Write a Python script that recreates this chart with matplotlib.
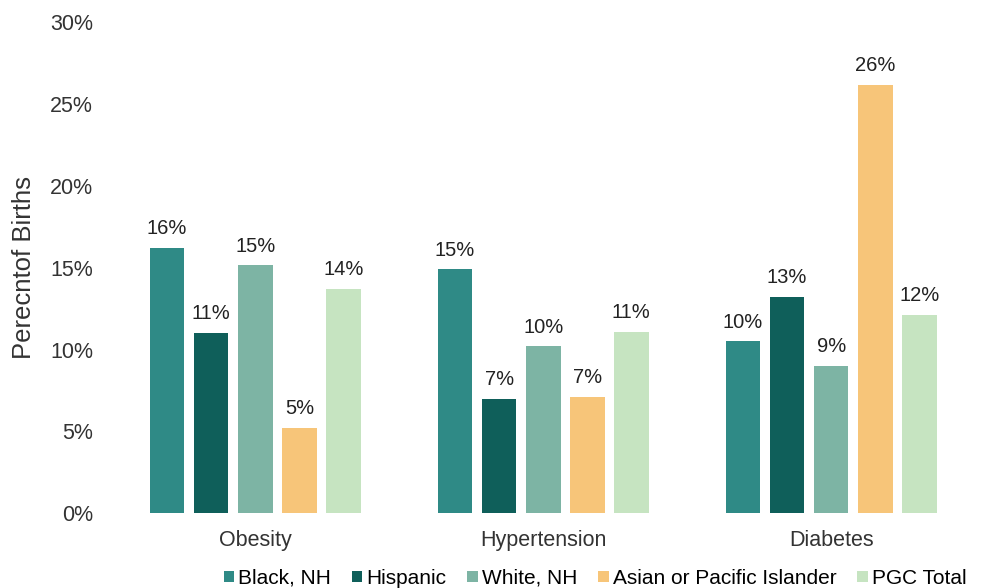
import numpy as np
import matplotlib.pyplot as plt

plt.rcParams['font.family'] = ['Liberation Sans', 'DejaVu Sans']

# Datos
condiciones = ["Obesity", "Hypertension", "Diabetes"]
grupos = ["Black, NH", "Hispanic", "White, NH", "Asian or Pacific Islander", "PGC Total"]
black_nh = [16.2, 14.9, 10.5]
hispanic = [11.0, 7.0, 13.2]
white_nh = [15.15, 10.2, 9.0]
asian_pi = [5.2, 7.1, 26.2]
pgc_total = [13.7, 11.1, 12.1]
colores = ["#2f8a86", "#0f5f5a", "#7db4a4", "#f7c579", "#c6e4c1"]

series = [black_nh, hispanic, white_nh, asian_pi, pgc_total]

fig, ax = plt.subplots(figsize=(9.85, 5.88), dpi=100)
fig.subplots_adjust(left=0.113, right=0.99, top=0.962, bottom=0.127)

x = np.arange(len(condiciones))
paso = 0.153
ancho = 0.12
for i, (vals, nombre, c) in enumerate(zip(series, grupos, colores)):
    pos = x + (i - 2) * paso
    barras = ax.bar(pos, vals, width=ancho, color=c, label=nombre)
    for b, v in zip(barras, vals):
        ax.text(b.get_x() + b.get_width() / 2, v + 0.6, f"{round(v):.0f}%",
                ha='center', va='bottom', fontsize=14.5, color="#222222")

ax.set_xlim(-0.5, 2.5)
ax.set_ylim(0, 30)
ax.set_yticks(np.arange(0, 31, 5))
ax.set_yticklabels([f"{t}%" for t in range(0, 31, 5)])
ax.set_xticks(x)
ax.set_xticklabels(condiciones)
ax.tick_params(axis='both', length=0, labelsize=15.5, colors="#333333")
ax.tick_params(axis='y', pad=13)
ax.tick_params(axis='x', pad=12)
ax.set_ylabel("Perecntof Births", fontsize=18.5, color="#333333", labelpad=10)
for s in ax.spines.values():
    s.set_visible(False)

ax.legend(loc='upper center', bbox_to_anchor=(0.56, -0.075), ncol=5, frameon=False,
          fontsize=15, handlelength=0.5, handleheight=0.5, handletextpad=0.2,
          columnspacing=1.0)

plt.savefig("out.png", dpi=100)
